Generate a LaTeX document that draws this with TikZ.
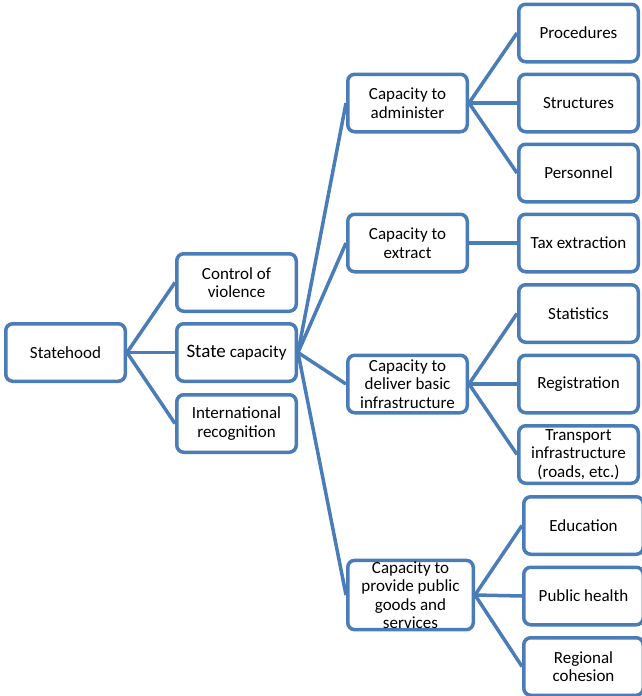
\documentclass[tikz,border=0pt]{standalone}
\usepackage{fontspec}
\setmainfont{Carlito}
\usepackage{xcolor}
\usepackage{tikz}
\usetikzlibrary{positioning}
\definecolor{boxblue}{RGB}{74,124,183}

\begin{document}
\begin{tikzpicture}[x=1pt,y=-1pt,
    box/.style={draw=boxblue,line width=3.5pt,rounded corners=7pt,fill=white,
        minimum width=119.5pt,minimum height=57.5pt,inner sep=1pt,align=center,
        font=\fontsize{17}{18.5}\selectfont},
    link/.style={draw=boxblue,line width=3.5pt}]
    \useasboundingbox (0,0) rectangle (642,696);

    % Root and first level
    \node[box] (statehood) at (65.5,352.5) {Statehood};
    \node[box] (violence) at (236.5,282.5) {Control of\\violence};
    \node[box] (statecap) at (236.5,352.5) {{\fontsize{19}{18}\selectfont State} capacity};
    \node[box] (recognition) at (236.5,423.5) {International\\recognition};

    % Capacities
    \node[box] (administer) at (407.5,103) {Capacity to\\administer};
    \node[box] (extract) at (407.5,243) {Capacity to\\extract};
    \node[box] (deliver) at (407.5,384) {Capacity to\\deliver basic\\infrastructure};
    \node[box,minimum width=125.5pt] (provide) at (410.5,595) {Capacity to\\provide public\\goods and\\services};

    % Leaves
    \node[box] (procedures) at (578.5,33) {Procedures};
    \node[box] (structures) at (578.5,103) {Structures};
    \node[box] (personnel) at (578.5,173) {Personnel};
    \node[box] (tax) at (578.5,243) {Tax extraction};
    \node[box] (statistics) at (578.5,313.5) {Statistics};
    \node[box] (registration) at (578.5,384) {Registration};
    \node[box] (transport) at (578.5,454.5) {Transport\\infrastructure\\(roads, etc.)};
    \node[box] (education) at (583.5,525.5) {Education};
    \node[box] (health) at (583.5,596) {Public health};
    \node[box] (cohesion) at (583.5,666.5) {Regional\\cohesion};

    % Links from statehood
    \draw[link] (statehood.east) -- (violence.west);
    \draw[link] (statehood.east) -- (statecap.west);
    \draw[link] (statehood.east) -- (recognition.west);

    % Links from state capacity
    \draw[link] (statecap.east) -- (administer.west);
    \draw[link] (statecap.east) -- (extract.west);
    \draw[link] (statecap.east) -- (deliver.west);
    \draw[link] (statecap.east) -- (provide.west);

    % Links to the leaves
    \draw[link] (administer.east) -- (procedures.west);
    \draw[link] (administer.east) -- (structures.west);
    \draw[link] (administer.east) -- (personnel.west);
    \draw[link] (extract.east) -- (tax.west);
    \draw[link] (deliver.east) -- (statistics.west);
    \draw[link] (deliver.east) -- (registration.west);
    \draw[link] (deliver.east) -- (transport.west);
    \draw[link] (provide.east) -- (education.west);
    \draw[link] (provide.east) -- (health.west);
    \draw[link] (provide.east) -- (cohesion.west);
\end{tikzpicture}
\end{document}
